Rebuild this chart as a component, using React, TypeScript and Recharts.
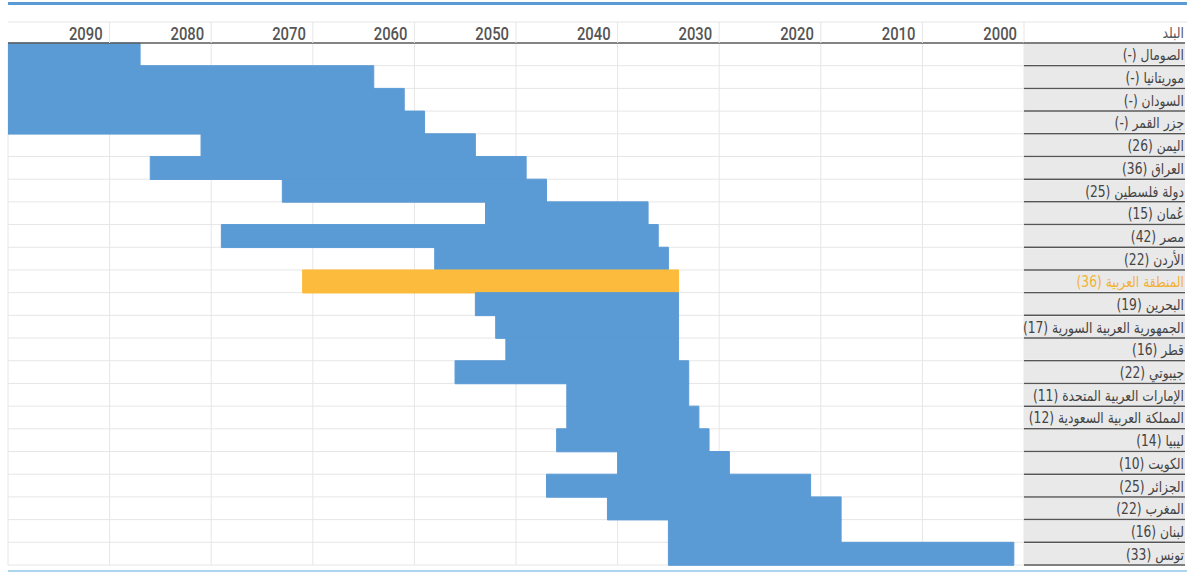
import { BarChart, Bar, XAxis, YAxis, CartesianGrid, Cell } from 'recharts'

const countries = [
  'الصومال (-)',
  'موريتانيا (-)',
  'السودان (-)',
  'جزر القمر (-)',
  'اليمن (26)',
  'العراق (36)',
  'دولة فلسطين (25)',
  'عُمان (15)',
  'مصر (42)',
  'الأردن (22)',
  'المنطقة العربية (36)',
  'البحرين (19)',
  'الجمهورية العربية السورية (17)',
  'قطر (16)',
  'جيبوتي (22)',
  'الإمارات العربية المتحدة (11)',
  'المملكة العربية السعودية (12)',
  'ليبيا (14)',
  'الكويت (10)',
  'الجزائر (25)',
  'المغرب (22)',
  'لبنان (16)',
  'تونس (33)',
]

// left end of each bar (later year) and right end (earlier year)
const fromYear = [2100, 2100, 2100, 2100, 2081, 2086, 2073, 2053, 2079, 2058, 2071, 2054, 2052, 2051, 2056, 2045, 2045, 2046, 2040, 2047, 2041, 2035, 2035]
const toYear = [2087, 2064, 2061, 2059, 2054, 2049, 2047, 2037, 2036, 2035, 2034, 2034, 2034, 2034, 2033, 2033, 2032, 2031, 2029, 2021, 2018, 2018, 2001]

const yearTicks = [2000, 2010, 2020, 2030, 2040, 2050, 2060, 2070, 2080, 2090]
const headerLabel = 'البلد'
const regionLabel = 'المنطقة العربية (36)'

const BLUE = '#5b9bd5'
const YELLOW = '#fcbb3c'
const ROW_H = 522 / countries.length

const data = countries.map((name, i) => ({ name, range: [toYear[i], fromYear[i]] }))

// condensed look: squeeze the glyphs horizontally
const YearTick = ({ x, y, payload }: any) => (
  <text
    transform={`translate(${x - 7},${y + 18}) scale(0.78,1)`}
    textAnchor="end"
    fontFamily="Roboto, sans-serif"
    fontWeight={500}
    fontSize={19}
    fill="#555"
  >
    {payload.value}
  </text>
)

const CountryTick = ({ x, y, payload }: any) => {
  const top = y - ROW_H / 2
  const isRegion = payload.value === regionLabel
  return (
    <g>
      <rect x={x} y={top + 1} width={161} height={ROW_H - 2} fill="#e9e9e9" />
      <line x1={x} x2={x + 161} y1={top + ROW_H} y2={top + ROW_H} stroke="#555" strokeWidth={1.5} />
      <text
        transform={`translate(${x + 160},${y + 6}) scale(0.82,1)`}
        direction="rtl"
        textAnchor="start"
        fontFamily="'DejaVu Sans', sans-serif"
        fontSize={15}
        fill={isRegion ? '#f2b135' : '#444'}
      >
        {payload.value}
      </text>
    </g>
  )
}

export default function App() {
  return (
    <div style={{ position: 'absolute', left: 0, top: 0, width: 1187, height: 574, background: '#fff' }}>
      <BarChart
        width={1187}
        height={574}
        data={data}
        layout="vertical"
        barCategoryGap={0}
        margin={{ top: 22, right: 2, bottom: 9, left: 8 }}
      >
        <CartesianGrid
          stroke="#e6e6e6"
          horizontalCoordinatesGenerator={({ offset }: any) =>
            countries.map((_, i) => offset.top + (i + 1) * (offset.height / countries.length))
          }
        />
        <XAxis
          type="number"
          orientation="top"
          domain={[2000, 2100]}
          reversed
          allowDataOverflow
          ticks={yearTicks}
          height={21}
          tickSize={21}
          tickMargin={0}
          tickLine={{ stroke: '#e6e6e6' }}
          axisLine={{ stroke: '#5a5a5a', strokeWidth: 1.5 }}
          tick={<YearTick />}
        />
        <YAxis
          type="category"
          dataKey="name"
          orientation="right"
          width={161}
          axisLine={false}
          tickLine={false}
          tickSize={0}
          tickMargin={0}
          interval={0}
          tick={<CountryTick />}
        />
        <Bar dataKey="range" isAnimationActive={false}>
          {data.map((d) => {
            const c = d.name === regionLabel ? YELLOW : BLUE
            return <Cell key={d.name} fill={c} stroke={c} strokeWidth={1} />
          })}
        </Bar>
      </BarChart>
      <svg
        width={1187}
        height={574}
        style={{ position: 'absolute', left: 0, top: 0, pointerEvents: 'none' }}
      >
        <rect x={8} y={2} width={1179} height={3} fill={BLUE} />
        <line x1={8} x2={1187} y1={22} y2={22} stroke="#e6e6e6" />
        <line x1={1024} x2={1185} y1={43} y2={43} stroke="#555" strokeWidth={1.5} />
        <text
          transform="translate(1184,38) scale(0.82,1)"
          direction="rtl"
          textAnchor="start"
          fontFamily="'DejaVu Sans', sans-serif"
          fontSize={15}
          fill="#555"
        >
          {headerLabel}
        </text>
        <line x1={8} x2={1187} y1={571} y2={571} stroke="#acd5ef" strokeWidth={2} />
      </svg>
    </div>
  )
}
